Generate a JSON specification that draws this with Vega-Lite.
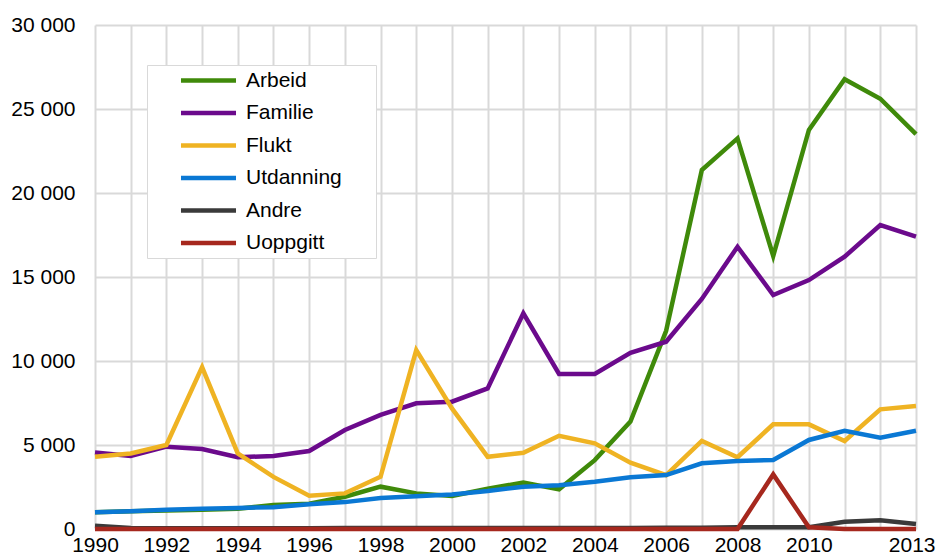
{
  "$schema": "https://vega.github.io/schema/vega-lite/v6.json",
  "width": 821,
  "height": 504,
  "autosize": {"type": "none"},
  "padding": {"left": 95, "top": 25, "right": 20, "bottom": 25},
  "background": "white",
  "config": {
    "view": {"stroke": null},
    "font": "Liberation Sans",
    "axis": {"labelFont": "Liberation Sans", "labelColor": "#000000", "labelFontSize": 21, "gridColor": "#d9d9d9", "gridWidth": 2, "gridOpacity": 1}
  },
  "data": {
    "values": [
      {"year": 1990, "Arbeid": 1000, "Familie": 4560, "Flukt": 4300, "Utdanning": 990, "Andre": 200, "Uoppgitt": 0},
      {"year": 1991, "Arbeid": 1050, "Familie": 4350, "Flukt": 4500, "Utdanning": 1050, "Andre": 60, "Uoppgitt": 0},
      {"year": 1992, "Arbeid": 1100, "Familie": 4900, "Flukt": 5000, "Utdanning": 1150, "Andre": 50, "Uoppgitt": 0},
      {"year": 1993, "Arbeid": 1150, "Familie": 4760, "Flukt": 9640, "Utdanning": 1200, "Andre": 50, "Uoppgitt": 0},
      {"year": 1994, "Arbeid": 1200, "Familie": 4270, "Flukt": 4500, "Utdanning": 1250, "Andre": 50, "Uoppgitt": 0},
      {"year": 1995, "Arbeid": 1430, "Familie": 4350, "Flukt": 3100, "Utdanning": 1300, "Andre": 50, "Uoppgitt": 0},
      {"year": 1996, "Arbeid": 1500, "Familie": 4640, "Flukt": 1980, "Utdanning": 1480, "Andre": 50, "Uoppgitt": 0},
      {"year": 1997, "Arbeid": 1920, "Familie": 5890, "Flukt": 2120, "Utdanning": 1600, "Andre": 60, "Uoppgitt": 0},
      {"year": 1998, "Arbeid": 2520, "Familie": 6790, "Flukt": 3110, "Utdanning": 1850, "Andre": 60, "Uoppgitt": 0},
      {"year": 1999, "Arbeid": 2120, "Familie": 7480, "Flukt": 10650, "Utdanning": 1950, "Andre": 60, "Uoppgitt": 0},
      {"year": 2000, "Arbeid": 1960, "Familie": 7580, "Flukt": 7180, "Utdanning": 2050, "Andre": 60, "Uoppgitt": 0},
      {"year": 2001, "Arbeid": 2400, "Familie": 8370, "Flukt": 4300, "Utdanning": 2260, "Andre": 60, "Uoppgitt": 0},
      {"year": 2002, "Arbeid": 2760, "Familie": 12840, "Flukt": 4540, "Utdanning": 2520, "Andre": 60, "Uoppgitt": 0},
      {"year": 2003, "Arbeid": 2360, "Familie": 9230, "Flukt": 5550, "Utdanning": 2600, "Andre": 60, "Uoppgitt": 0},
      {"year": 2004, "Arbeid": 4100, "Familie": 9230, "Flukt": 5100, "Utdanning": 2810, "Andre": 60, "Uoppgitt": 0},
      {"year": 2005, "Arbeid": 6390, "Familie": 10490, "Flukt": 3950, "Utdanning": 3080, "Andre": 60, "Uoppgitt": 0},
      {"year": 2006, "Arbeid": 11800, "Familie": 11150, "Flukt": 3200, "Utdanning": 3210, "Andre": 70, "Uoppgitt": 0},
      {"year": 2007, "Arbeid": 21370, "Familie": 13690, "Flukt": 5240, "Utdanning": 3910, "Andre": 80, "Uoppgitt": 0},
      {"year": 2008, "Arbeid": 23250, "Familie": 16800, "Flukt": 4270, "Utdanning": 4050, "Andre": 100, "Uoppgitt": 0},
      {"year": 2009, "Arbeid": 16250, "Familie": 13930, "Flukt": 6230, "Utdanning": 4110, "Andre": 100, "Uoppgitt": 3250},
      {"year": 2010, "Arbeid": 23750, "Familie": 14820, "Flukt": 6230, "Utdanning": 5300, "Andre": 100, "Uoppgitt": 100},
      {"year": 2011, "Arbeid": 26770, "Familie": 16210, "Flukt": 5240, "Utdanning": 5850, "Andre": 430, "Uoppgitt": 0},
      {"year": 2012, "Arbeid": 25610, "Familie": 18090, "Flukt": 7120, "Utdanning": 5430, "Andre": 520, "Uoppgitt": 0},
      {"year": 2013, "Arbeid": 23510, "Familie": 17400, "Flukt": 7320, "Utdanning": 5850, "Andre": 300, "Uoppgitt": 0}
    ]
  },
  "transform": [
    {"fold": ["Arbeid", "Familie", "Flukt", "Utdanning", "Andre", "Uoppgitt"], "as": ["type", "value"]}
  ],
  "encoding": {
    "x": {
      "field": "year", "type": "quantitative",
      "scale": {"domain": [1990, 2013], "nice": false, "zero": false},
      "axis": {
        "title": null, "domain": false, "ticks": false,
        "values": [1990,1991,1992,1993,1994,1995,1996,1997,1998,1999,2000,2001,2002,2003,2004,2005,2006,2007,2008,2009,2010,2011,2012,2013],
        "labelExpr": "(datum.value % 2 == 0 && datum.value <= 2010) || datum.value == 2013 ? format(datum.value, 'd') : ''",
        "labelOverlap": false, "labelPadding": 5, "labelFlush": false,
        "labelAlign": {"condition": {"test": "datum.value == 2013", "value": "right"}, "value": "center"},
        "labelOffset": {"condition": {"test": "datum.value == 2013", "value": 19}, "value": 0}
      }
    },
    "y": {
      "field": "value", "type": "quantitative",
      "scale": {"domain": [0, 30000], "nice": false},
      "axis": {
        "title": null, "domain": false, "ticks": false,
        "values": [0, 5000, 10000, 15000, 20000, 25000, 30000],
        "labelExpr": "replace(format(datum.value, ','), ',', ' ')",
        "labelPadding": 20
      }
    },
    "color": {
      "field": "type", "type": "nominal",
      "scale": {
        "domain": ["Arbeid", "Familie", "Flukt", "Utdanning", "Andre", "Uoppgitt"],
        "range": ["#3f8a0a", "#6b0a8c", "#efb323", "#0a78d4", "#3a3a3a", "#a6281e"]
      },
      "legend": {
        "title": null, "orient": "none", "legendX": 52, "legendY": 40,
        "symbolType": "M-3.93,0H3.93", "symbolStrokeWidth": 4.5, "symbolSize": 196,
        "labelFontSize": 21, "labelFont": "Liberation Sans", "labelColor": "#000000",
        "labelExpr": "datum.label == 'Utdanning' ? datum.label + '\u00a0\u00a0\u00a0\u00a0\u00a0\u200b' : datum.label",
        "labelOffset": 27, "rowPadding": 10.5,
        "padding": 5, "symbolOffset": 46,
        "strokeColor": "#d9d9d9", "fillColor": "#ffffff", "cornerRadius": 0
      }
    }
  },
  "layer": [
    {"transform": [{"filter": "datum.type == 'Arbeid'"}], "mark": {"type": "line", "strokeWidth": 4.5, "strokeJoin": "miter"}},
    {"transform": [{"filter": "datum.type == 'Familie'"}], "mark": {"type": "line", "strokeWidth": 4.5, "strokeJoin": "miter"}},
    {"transform": [{"filter": "datum.type == 'Flukt'"}], "mark": {"type": "line", "strokeWidth": 4.5, "strokeJoin": "miter"}},
    {"transform": [{"filter": "datum.type == 'Utdanning'"}], "mark": {"type": "line", "strokeWidth": 4.5, "strokeJoin": "miter"}},
    {"transform": [{"filter": "datum.type == 'Andre'"}], "mark": {"type": "line", "strokeWidth": 4.5, "strokeJoin": "miter"}},
    {"transform": [{"filter": "datum.type == 'Uoppgitt'"}], "mark": {"type": "line", "strokeWidth": 4.5, "strokeJoin": "miter"}}
  ]
}
